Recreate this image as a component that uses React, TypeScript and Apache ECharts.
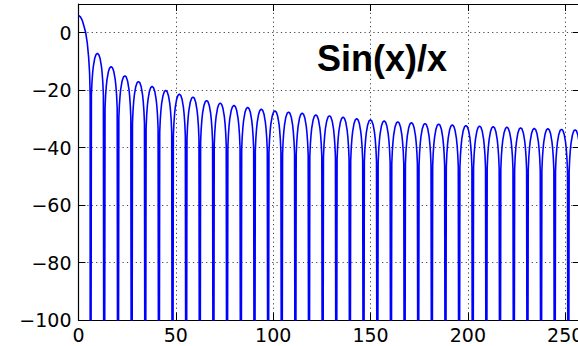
import React, { useEffect, useRef } from "react";
import * as echarts from "echarts";

// Axis ticks
const xTicks = [0, 50, 100, 150, 200, 250];
const yTicks = [-100, -80, -60, -40, -20, 0];

// Main lobe: x and dB
const mainLobeX = [0, 1, 2, 3, 3.7, 4.5, 5.2, 5.7, 6.0];
const mainLobeY = [6.0, 5.5, 4.2, 1.8, 0, -3.5, -8.5, -14, -22];

// Positions where the curve dips to the bottom (zeros)
const zeroX = [
  6.2, 13.2, 20.3, 27.3, 34.3, 41.3, 48.3, 55.3, 62.3, 69.3, 76.3, 83.4, 90.4,
  97.4, 104.4, 111.4, 118.4, 125.4, 132.4, 139.4, 146.4, 153.5, 160.5, 167.5,
  174.5, 181.5, 188.5, 195.5, 202.5, 209.5, 216.5, 223.6, 230.6, 237.6, 244.6,
  251.6, 258.6,
];

// Peak of each side lobe (between consecutive zeros)
const lobePeaks = [
  -7.2, -11.8, -15.0, -17.0, -18.7, -20.1, -21.4, -22.4, -23.6, -24.5, -25.3,
  -26.0, -26.6, -27.2, -27.6, -28.0, -28.6, -28.9, -29.4, -29.9, -30.3, -30.7,
  -31.0, -31.3, -31.6, -31.8, -32.1, -32.3, -32.5, -32.7, -32.9, -33.1, -33.3,
  -33.4, -33.6, -33.8,
];

// Shape of one lobe: position across the lobe and level below its peak (dB)
const lobeShapeT = [0.06, 0.1, 0.15, 0.2, 0.3, 0.4, 0.5, 0.6, 0.7, 0.8, 0.85, 0.9, 0.94];
const lobeShapeDb = [-14.5, -10.2, -6.9, -4.6, -1.8, -0.4, 0, -0.4, -1.8, -4.6, -6.9, -10.2, -14.5];
const dipOffsetT = 0.03;
const dipLevel = -130;

function buildData(): number[][] {
  const pts: number[][] = [];
  for (let i = 0; i < mainLobeX.length; i++) pts.push([mainLobeX[i], mainLobeY[i]]);
  const w0 = zeroX[1] - zeroX[0];
  pts.push([zeroX[0] - dipOffsetT * w0, dipLevel]);
  for (let k = 0; k < lobePeaks.length; k++) {
    const a = zeroX[k];
    const b = zeroX[k + 1];
    const w = b - a;
    pts.push([a + dipOffsetT * w, dipLevel]);
    for (let j = 0; j < lobeShapeT.length; j++) {
      pts.push([a + lobeShapeT[j] * w, lobePeaks[k] + lobeShapeDb[j]]);
    }
    pts.push([b - dipOffsetT * w, dipLevel]);
  }
  return pts;
}

const fmt = (v: number) => (v < 0 ? "\u2212" + String(-v) : String(v));

export default function App() {
  const ref = useRef<HTMLDivElement>(null);
  useEffect(() => {
    if (!ref.current) return;
    const chart = echarts.init(ref.current, null, { renderer: "svg" });
    const labelFont = { fontFamily: "DejaVu Sans", fontSize: 19, color: "#000" };
    const tick = { show: true, inside: true, length: 7, lineStyle: { color: "#000", width: 1 } };
    const axLine = { show: true, onZero: false, lineStyle: { color: "#000", width: 1.2 } };
    const grid = { show: true, lineStyle: { color: "#444", width: 1, type: [1.2, 3.2] as any } };
    chart.setOption({
      animation: false,
      grid: {
        left: 78.5,
        right: -2,
        top: 4,
        bottom: 26,
        containLabel: false,
        outerBoundsMode: "none",
      } as any,
      xAxis: [
        {
          type: "value",
          min: 0,
          max: 257.6,
          interval: 50,
          position: "bottom",
          axisLine: axLine,
          axisTick: tick,
          splitLine: grid,
          axisLabel: {
            ...labelFont,
            margin: 5,
            showMaxLabel: false,
            hideOverlap: false,
            formatter: (v: number) => (xTicks.includes(v) ? fmt(v) : ""),
          },
        },
        {
          type: "value",
          min: 0,
          max: 257.6,
          interval: 50,
          position: "top",
          axisLine: axLine,
          axisTick: tick,
          splitLine: { show: false },
          axisLabel: { show: false },
        },
      ],
      yAxis: [
        {
          type: "value",
          min: -100,
          max: 10,
          interval: 20,
          position: "left",
          axisLine: axLine,
          axisTick: tick,
          splitLine: grid,
          axisLabel: {
            ...labelFont,
            margin: 7,
            showMaxLabel: false,
            formatter: (v: number) => (yTicks.includes(v) ? fmt(v) : ""),
          },
        },
        {
          type: "value",
          min: -100,
          max: 10,
          interval: 20,
          position: "right",
          axisLine: axLine,
          axisTick: tick,
          splitLine: { show: false },
          axisLabel: { show: false },
        },
      ],
      series: [
        {
          type: "line",
          data: buildData(),
          showSymbol: false,
          symbol: "none",
          clip: true,
          lineStyle: { color: "#0000ff", width: 1.6 },
          z: 3,
        },
      ],
      graphic: [
        {
          type: "text",
          left: 317,
          top: 40,
          z: 10,
          style: {
            text: "Sin(x)/x",
            font: 'bold 36px "Liberation Sans"',
            fill: "#000",
          },
        },
      ],
    });
    return () => chart.dispose();
  }, []);
  return (
    <div
      ref={ref}
      style={{ position: "fixed", left: 0, top: 0, width: 578, height: 346, background: "#fff" }}
    />
  );
}
